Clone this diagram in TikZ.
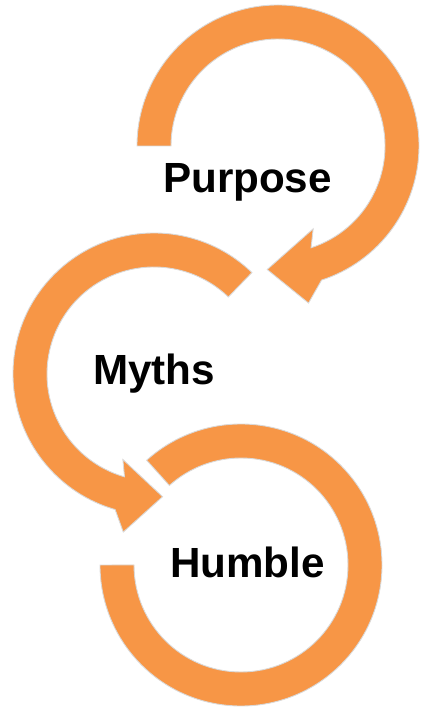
\documentclass[tikz,border=0pt]{standalone}
\usepackage{fontspec}
\setmainfont{Liberation Sans}
\definecolor{laranja}{RGB}{247,150,70}
\begin{document}
\begin{tikzpicture}[seta/.style={fill=laranja, draw=black!15, line width=0.5pt},
	rotulo/.style={font=\bfseries\fontsize{24}{28}\selectfont, anchor=base, inner sep=0pt}] %Estilos
	\useasboundingbox (0,0) rectangle (8.46,14.22); %Moldura
	%Centros
	\coordinate (c1) at (5.56,11.30);
	\coordinate (c2) at (3.08,6.74);
	\coordinate (c3) at (4.82,2.92);
	%Seta 1
	\begin{scope}[shift={(c1)}]
		\draw[seta] (180:2.82) arc[start angle=180, end angle=-72, radius=2.82] -- (-79:3.20) -- (-95:2.48) -- (-67:1.80) -- (-72:2.14) arc[start angle=-72, end angle=180, radius=2.14] -- cycle;
	\end{scope}
	%Seta 2
	\begin{scope}[shift={(c2)}]
		\draw[seta] (46:2.82) arc[start angle=46, end angle=254, radius=2.82] -- (259:3.22) -- (274:2.46) -- (250:1.82) -- (254:2.14) arc[start angle=254, end angle=46, radius=2.14] -- cycle;
	\end{scope}
	%Arco 3
	\begin{scope}[shift={(c3)}]
		\draw[seta] (132:2.82) arc[start angle=132, end angle=-180, radius=2.82] -- (-180:2.14) arc[start angle=-180, end angle=132, radius=2.14] -- cycle;
	\end{scope}
	%Textos
	\node[rotulo] (purpose) at (4.95,10.36) {Purpose};
	\node[rotulo] (myths) at (3.08,6.52) {Myths};
	\node[rotulo] (humble) at (4.95,2.66) {Humble};
\end{tikzpicture}
\end{document}
